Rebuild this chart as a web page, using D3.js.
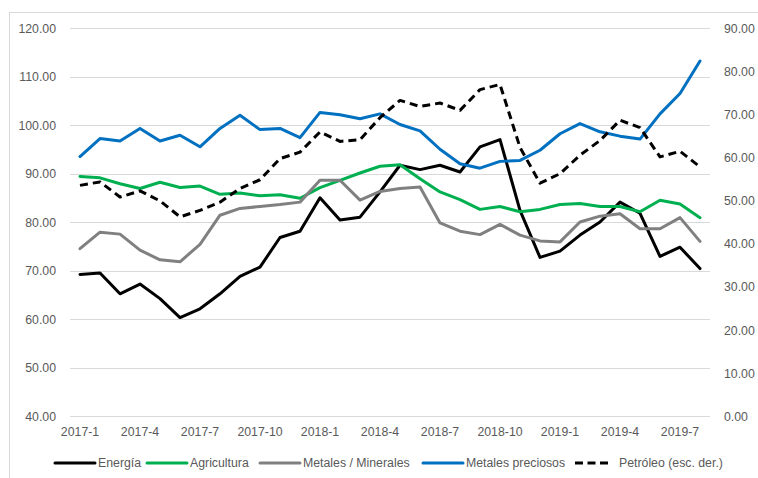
<!DOCTYPE html>
<html>
<head>
<meta charset="utf-8">
<script src="https://cdn.jsdelivr.net/npm/d3@7"></script>
<style>
  body { margin: 0; background: #fff; }
  svg { display: block; font-family: 'Liberation Sans', Arial, sans-serif; }
</style>
</head>
<body>
<svg id="chart"></svg>
<script>
const months = ['2017-1','2017-2','2017-3','2017-4','2017-5','2017-6','2017-7','2017-8','2017-9','2017-10','2017-11','2017-12',
  '2018-1','2018-2','2018-3','2018-4','2018-5','2018-6','2018-7','2018-8','2018-9','2018-10','2018-11','2018-12',
  '2019-1','2019-2','2019-3','2019-4','2019-5','2019-6','2019-7','2019-8'];
const tickLabels = ['2017-1','2017-4','2017-7','2017-10','2018-1','2018-4','2018-7','2018-10','2019-1','2019-4','2019-7'];
const leftTicks = [40, 50, 60, 70, 80, 90, 100, 110, 120];
const rightTicks = [0, 10, 20, 30, 40, 50, 60, 70, 80, 90];

const energia = [69.2, 69.5, 65.2, 67.2, 64.2, 60.3, 62.1, 65.2, 68.8, 70.7, 76.8, 78.1,
  85.0, 80.4, 81.0, 86.2, 91.7, 90.8, 91.7, 90.3, 95.5, 97.0, 82.4, 72.7,
  74.0, 77.3, 80.0, 84.1, 81.8, 72.9, 74.8, 70.4];
const agricultura = [89.4, 89.1, 87.9, 86.9, 88.2, 87.1, 87.4, 85.7, 86.0, 85.4, 85.6, 84.9,
  87.1, 88.6, 90.1, 91.5, 91.8, 88.9, 86.2, 84.6, 82.6, 83.2, 82.1, 82.6,
  83.6, 83.8, 83.2, 83.2, 82.1, 84.5, 83.7, 80.9];
const metales = [74.5, 77.9, 77.5, 74.2, 72.2, 71.8, 75.4, 81.4, 82.8, 83.2, 83.6, 84.1,
  88.6, 88.6, 84.5, 86.3, 86.9, 87.2, 79.8, 78.1, 77.4, 79.5, 77.3, 76.1,
  75.9, 80.0, 81.2, 81.7, 78.6, 78.6, 80.9, 76.0];
const preciosos = [93.5, 97.2, 96.7, 99.3, 96.7, 97.9, 95.5, 99.3, 102.0, 99.05, 99.3, 97.4,
  102.6, 102.1, 101.3, 102.3, 100.1, 98.8, 95.0, 92.0, 91.1, 92.5, 92.7, 94.8,
  98.2, 100.3, 98.6, 97.7, 97.1, 102.3, 106.5, 113.2];
const petroleo = [53.5, 54.3, 50.8, 52.2, 49.9, 46.2, 47.7, 49.6, 52.8, 54.8, 59.7, 61.2,
  65.9, 63.7, 64.1, 69.2, 73.2, 71.8, 72.6, 70.9, 75.7, 76.9, 62.3, 54.0,
  56.2, 60.5, 63.9, 68.6, 66.9, 60.1, 61.4, 57.8];

const width = 758, height = 478;
const margin = { top: 28, right: 48, bottom: 62, left: 70 };
const textColor = '#595959';

const svg = d3.select('#chart').attr('width', width).attr('height', height);

svg.append('rect')
  .attr('x', 9.5).attr('y', 12.5)
  .attr('width', width).attr('height', height)
  .attr('fill', 'none').attr('stroke', '#d9d9d9');

const x = d3.scaleBand().domain(months).range([margin.left, width - margin.right]);
const yL = d3.scaleLinear().domain([40, 120]).range([height - margin.bottom, margin.top]);
const yR = d3.scaleLinear().domain([0, 90]).range([height - margin.bottom, margin.top]);
const cx = d => x(d) + x.bandwidth() / 2;

// grid
svg.append('g').selectAll('line').data(leftTicks).join('line')
  .attr('x1', margin.left).attr('x2', width - margin.right)
  .attr('y1', d => Math.round(yL(d)) + 0.5).attr('y2', d => Math.round(yL(d)) + 0.5)
  .attr('stroke', '#d9d9d9').attr('stroke-width', 1);

// left axis
const axL = svg.append('g')
  .attr('transform', `translate(${margin.left - 14},0)`)
  .call(d3.axisLeft(yL).tickValues(leftTicks).tickFormat(d3.format('.2f')).tickSize(0).tickPadding(0));
axL.select('.domain').remove();

// right axis
const axR = svg.append('g')
  .attr('transform', `translate(${width - margin.right + 14},0)`)
  .call(d3.axisRight(yR).tickValues(rightTicks).tickFormat(d3.format('.2f')).tickSize(0).tickPadding(0));
axR.select('.domain').remove();

// bottom axis
const axB = svg.append('g')
  .attr('transform', `translate(0,${height - margin.bottom + 11})`)
  .call(d3.axisBottom(x).tickValues(tickLabels).tickSize(0).tickPadding(0));
axB.select('.domain').remove();

svg.selectAll('.tick text')
  .attr('fill', textColor)
  .style('font-size', '12.3px');
axL.selectAll('.tick text').attr('dy', '0.35em');
axR.selectAll('.tick text').attr('dy', '0.35em');

const series = [
  { name: 'Energía', values: energia, color: '#000000', y: yL },
  { name: 'Agricultura', values: agricultura, color: '#00b050', y: yL },
  { name: 'Metales / Minerales', values: metales, color: '#808080', y: yL },
  { name: 'Metales preciosos', values: preciosos, color: '#0070c0', y: yL },
  { name: 'Petróleo (esc. der.)', values: petroleo, color: '#000000', y: yR, dash: '8,5' }
];

series.forEach(s => {
  const line = d3.line()
    .x((d, i) => cx(months[i]))
    .y(d => s.y(d));
  svg.append('path')
    .datum(s.values)
    .attr('d', line)
    .attr('fill', 'none')
    .attr('stroke', s.color)
    .attr('stroke-width', 3)
    .attr('stroke-linejoin', 'round')
    .attr('stroke-linecap', s.dash ? 'butt' : 'round')
    .attr('stroke-dasharray', s.dash || null);
});

// legend, item starts as in the original layout
const legendX = [55, 147, 260, 423, 575];
const legend = svg.append('g').attr('transform', 'translate(0,463)');
series.forEach((s, i) => {
  const g = legend.append('g').attr('transform', `translate(${legendX[i]},0)`);
  g.append('line')
    .attr('x1', 0).attr('x2', s.dash ? 37 : 40)
    .attr('y1', 0).attr('y2', 0)
    .attr('stroke', s.color).attr('stroke-width', 3)
    .attr('stroke-linecap', s.dash ? 'butt' : 'round')
    .attr('stroke-dasharray', s.dash ? '8,4.5' : null);
  g.append('text')
    .attr('x', s.dash ? 44 : 43).attr('dy', '0.35em')
    .attr('fill', textColor)
    .style('font-size', '12.3px')
    .text(s.name);
});
</script>
</body>
</html>
